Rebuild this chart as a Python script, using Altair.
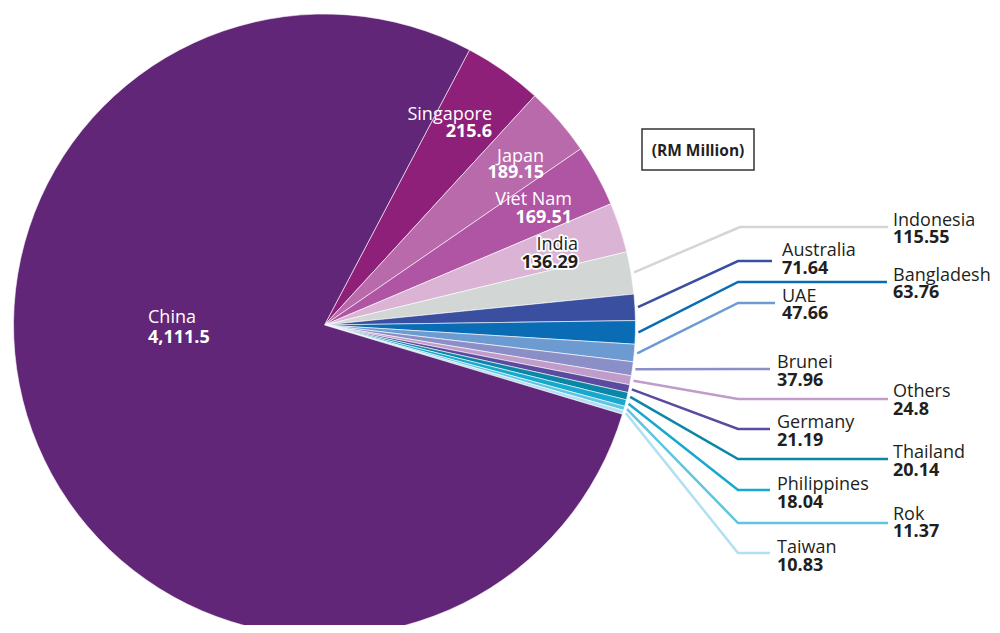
import math
import altair as alt
import pandas as pd

# ---- data ----
countries = ["Singapore", "Japan", "Viet Nam", "India", "Indonesia", "Australia",
             "Bangladesh", "UAE", "Brunei", "Others", "Germany", "Thailand",
             "Philippines", "Rok", "Taiwan", "China"]
values = [215.6, 189.15, 169.51, 136.29, 115.55, 71.64, 63.76, 47.66, 37.96,
          24.8, 21.19, 20.14, 18.04, 11.37, 10.83, 4111.5]
colors = ["#8e2079", "#b86aaa", "#b054a4", "#dab3d5", "#d2d6d4", "#3a4fa0",
          "#0a6cb5", "#6c9bd2", "#8b8fc8", "#c09ccb", "#5b4a9e", "#0a86a6",
          "#17a8cf", "#60c4e2", "#b0e0f2", "#622678"]
unit_label = "(RM Million)"

# ---- layout (screen pixels, page margin removed below) ----
OFF = 8
CX, CY, R = 324.5 - OFF, 325 - OFF, 311
START_DEG = 27.8
LEAD_R = 314

# right-hand labels: name -> (text x, name baseline, value baseline, line y, elbow x, line end x)
right_layout = {
    "Indonesia":   (893, 226, 243, 227, 740, 888),
    "Australia":   (782, 256, 274, 261, 738, 772),
    "Bangladesh":  (893, 281, 298, 282, 738, 887),
    "UAE":         (782, 302, 319, 303, 738, 775),
    "Brunei":      (777, 368, 386, 369, 738, 770),
    "Others":      (893, 397, 415, 399, 738, 888),
    "Germany":     (777, 428, 446, 429, 738, 770),
    "Thailand":    (893, 458, 476, 459, 738, 888),
    "Philippines": (777, 490, 508, 490, 738, 770),
    "Rok":         (893, 520, 537, 523, 738, 888),
    "Taiwan":      (777, 553, 571, 553, 738, 770),
}
# inner labels: name -> (x, name baseline, value baseline)
inner_white_right = {"Singapore": (492, 120, 137), "Japan": (544, 162, 178),
                     "Viet Nam": (572, 205, 223)}
inner_dark_right = {"India": (578, 250, 268)}
inner_white_left = {"China": (148, 323, 343)}

FONT = "Open Sans"
FS = 18
DARK = "#231f20"

# ---- derived tables ----
total = sum(values)
rows = []
cum = 0.0
for c, v, col in zip(countries, values, colors):
    t0 = math.radians(START_DEG) + 2 * math.pi * cum / total
    cum += v
    t1 = math.radians(START_DEG) + 2 * math.pi * cum / total
    rows.append({"country": c, "value": v, "color": col, "t0": t0, "t1": t1,
                 "mid": (t0 + t1) / 2, "label": f"{v:,}"})
pie_df = pd.DataFrame(rows)
info = {r["country"]: r for r in rows}

line_rows = []
for c, (tx, ny, vy, ly, ex, endx) in right_layout.items():
    m = info[c]["mid"]
    sx = CX + LEAD_R * math.sin(m)
    sy = CY - LEAD_R * math.cos(m)
    pts = [(sx, sy), (ex - OFF, ly - OFF), (endx - OFF, ly - OFF)]
    for i, (px, py) in enumerate(pts):
        line_rows.append({"country": c, "ord": i, "x": px, "y": py,
                          "color": info[c]["color"]})
lines_df = pd.DataFrame(line_rows)


def label_df(layout):
    out = []
    for c, pos in layout.items():
        out.append({"country": c, "label": info[c]["label"], "x": pos[0] - OFF,
                    "ny": pos[1] - OFF, "vy": pos[2] - OFF})
    return pd.DataFrame(out)


right_df = label_df({k: v[:3] for k, v in right_layout.items()})
wr_df = label_df(inner_white_right)
dr_df = label_df(inner_dark_right)
wl_df = label_df(inner_white_left)

X = lambda f: alt.X(f, scale=None, axis=None)
Y = lambda f: alt.Y(f, scale=None, axis=None)

pie = alt.Chart(pie_df).mark_arc(radius=R, stroke="white", strokeWidth=0.6).encode(
    theta=alt.Theta("t0:Q", scale=None),
    theta2=alt.Theta2("t1:Q"),
    color=alt.Color("color:N", scale=None),
    x=alt.value(CX), y=alt.value(CY),
)

leaders = alt.Chart(lines_df).mark_line(strokeWidth=2.5).encode(
    x=X("x:Q"), y=Y("y:Q"), detail="country:N", order="ord:Q",
    color=alt.Color("color:N", scale=None),
)


def text_layers(df, align, fill, halo=False):
    layers = []
    for field, ycol, weight in (("country", "ny", "normal"), ("label", "vy", "bold")):
        base = alt.Chart(df)
        if halo:
            layers.append(base.mark_text(align=align, baseline="alphabetic", font=FONT,
                                         fontSize=FS, fontWeight=weight, fill="white",
                                         stroke="white", strokeWidth=3.5,
                                         strokeJoin="round").encode(
                x=X("x:Q"), y=Y(f"{ycol}:Q"), text=f"{field}:N"))
        layers.append(base.mark_text(align=align, baseline="alphabetic", font=FONT,
                                     fontSize=FS, fontWeight=weight, fill=fill).encode(
            x=X("x:Q"), y=Y(f"{ycol}:Q"), text=f"{field}:N"))
    return layers


box = alt.Chart(pd.DataFrame({"x": [642 - OFF], "x2": [754 - OFF],
                              "y": [129 - OFF], "y2": [170 - OFF]})).mark_rect(
    fill="white", stroke="#333333", strokeWidth=1.5).encode(
    x=X("x:Q"), x2="x2:Q", y=Y("y:Q"), y2="y2:Q")
box_text = alt.Chart(pd.DataFrame({"t": [unit_label], "x": [698 - OFF],
                                   "y": [156 - OFF]})).mark_text(
    align="center", baseline="alphabetic", font=FONT, fontSize=15.5,
    fontWeight="bold", fill=DARK).encode(x=X("x:Q"), y=Y("y:Q"), text="t:N")

layers = [pie, leaders]
layers += text_layers(right_df, "left", DARK)
layers += text_layers(wr_df, "right", "white")
layers += text_layers(dr_df, "right", DARK, halo=True)
layers += text_layers(wl_df, "left", "white")
layers += [box, box_text]

chart = alt.layer(*layers).properties(
    width=984, height=617, padding=0,
    autosize=alt.AutoSizeParams(type="none"),
).configure_view(stroke=None)

chart.save("out.html", embed_options={"renderer": "svg", "actions": False})
